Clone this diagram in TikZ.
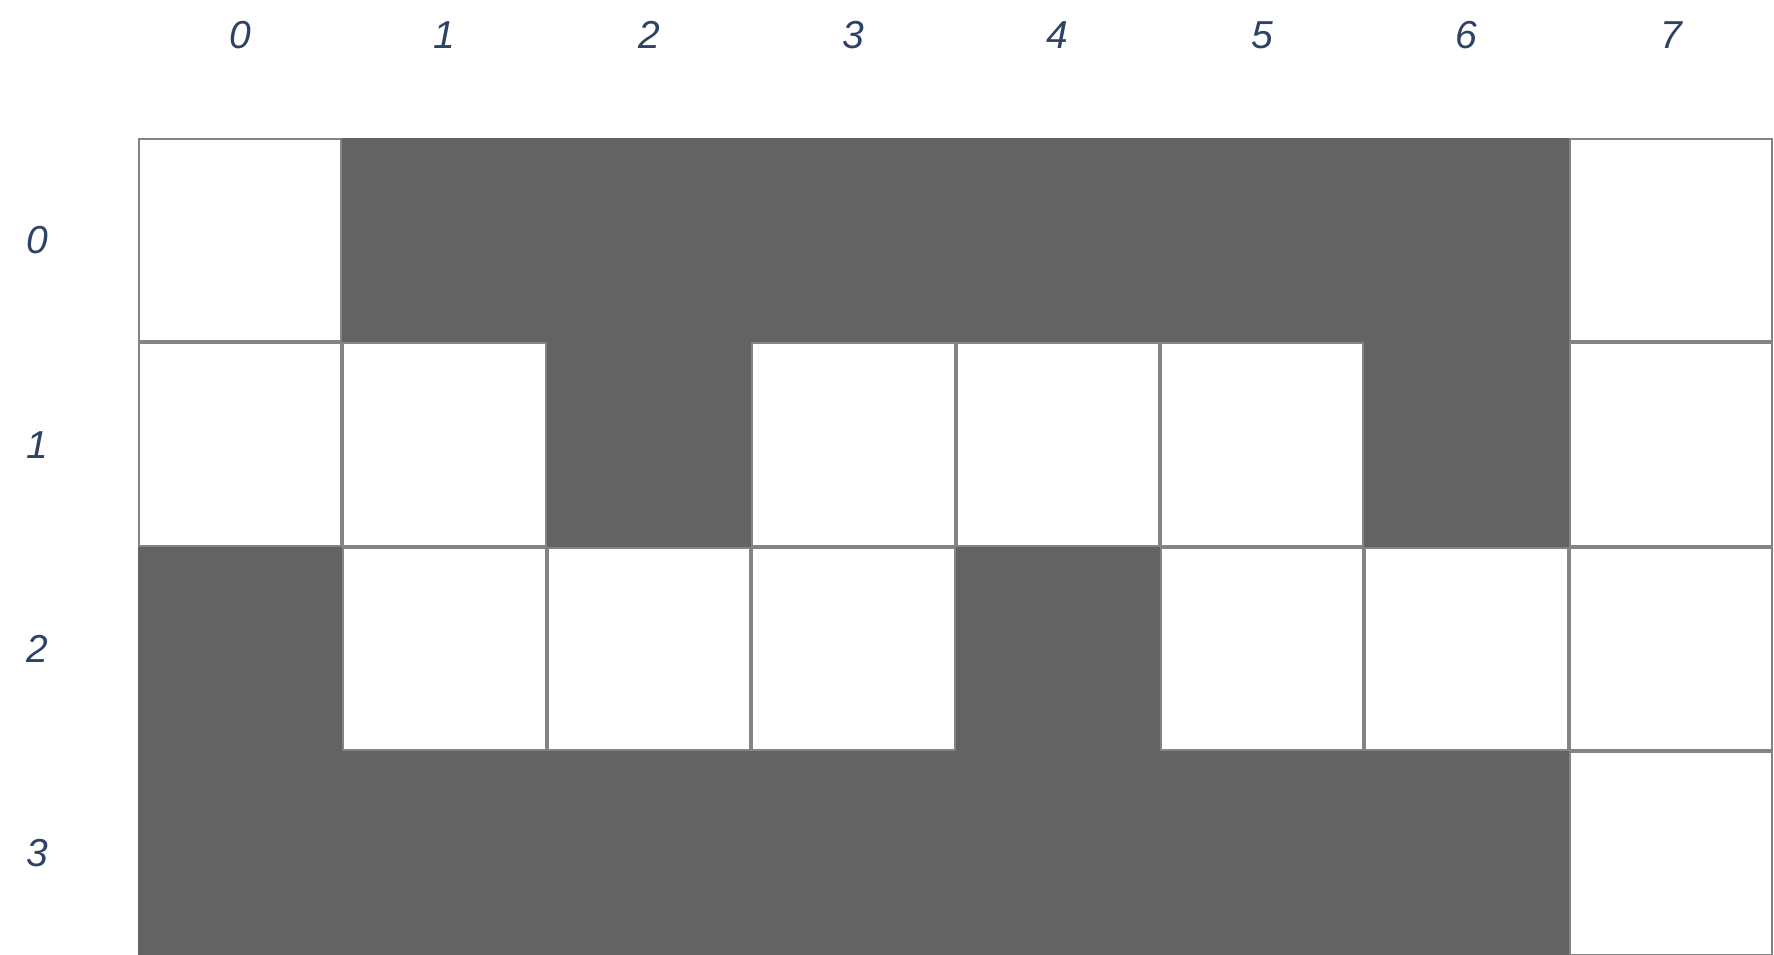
\documentclass[tikz,border=0pt]{standalone}
\usepackage{fontspec}
\setmainfont{Liberation Sans}
\definecolor{darkcell}{HTML}{636363}
\definecolor{gridline}{HTML}{848484}
\definecolor{labelcol}{HTML}{2E4264}
\begin{document}
\begin{tikzpicture}[x=0.5pt,y=-0.5pt,
  lab/.style={text=labelcol,font=\fontsize{19.5}{23}\selectfont\itshape,inner sep=0pt},
  darkc/.style={fill=darkcell},
  whitec/.style={fill=white,draw=gridline,line width=1pt}]
\useasboundingbox (0,0) rectangle (1774,954);
\clip (0,0) rectangle (1774,954);
\def\cs{204.4}
% dark cells
\foreach \r/\c in {0/1,0/2,0/3,0/4,0/5,0/6,1/2,1/6,2/0,2/4,3/0,3/1,3/2,3/3,3/4,3/5,3/6}
  \fill[darkc] ({138+\c*\cs-0.5},{138+\r*\cs-0.5}) rectangle +(\cs+1,\cs+1);
% white cells
\foreach \r/\c in {0/0,0/7,1/0,1/1,1/3,1/4,1/5,1/7,2/1,2/2,2/3,2/5,2/6,2/7,3/7}
  \draw[whitec] ({138+\c*\cs+1},{138+\r*\cs+1}) rectangle +(\cs-2,\cs-2);
% column labels
\foreach \i in {0,...,7}
  \node[lab] (col\i) at ({138+(\i+0.5)*\cs},35) {\i};
% row labels
\foreach \j in {0,...,3}
  \node[lab] (row\j) at (37,{138+(\j+0.5)*\cs}) {\j};
\end{tikzpicture}
\end{document}
